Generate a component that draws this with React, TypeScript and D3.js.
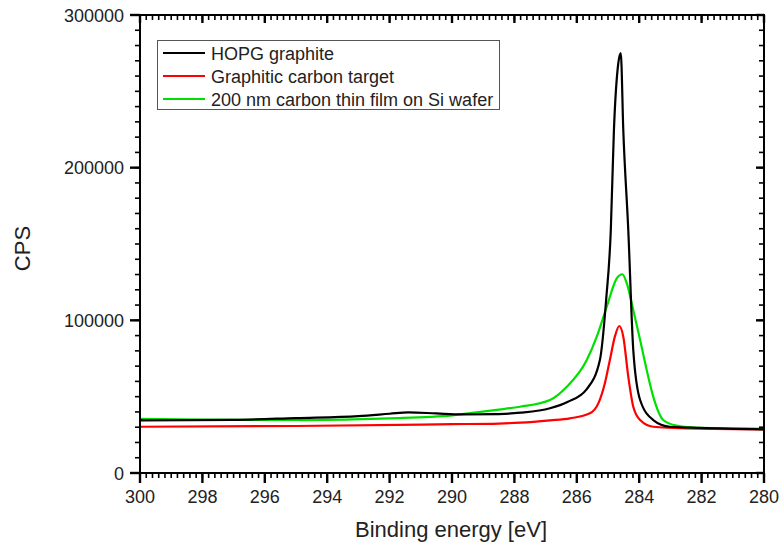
import React from "react";
import * as d3 from "d3";

const hopgE = [300, 297, 295, 293, 292, 291.4, 290.5, 289.7, 288.5, 287.8, 286.86, 286.3, 285.68, 285.26, 285.06, 284.91, 284.81, 284.67, 284.59, 284.51, 284.35, 284.19, 283.97, 283.55, 283.01, 282.05, 280];
const hopgV = [34500, 34800, 36000, 37300, 38800, 39700, 39000, 38400, 38600, 39500, 42400, 46500, 55000, 74000, 113300, 159200, 224700, 268400, 275000, 224700, 159200, 80600, 47800, 34700, 30300, 29500, 28600];

const targetE = [300, 295, 290, 288.5, 287.8, 286.86, 286.22, 285.58, 285.31, 285.1, 284.94, 284.78, 284.64, 284.51, 284.35, 284.19, 283.97, 283.55, 282.05, 280];
const targetV = [30300, 30800, 32000, 32400, 33000, 34500, 35800, 39100, 45600, 58800, 74000, 89300, 96300, 89300, 63100, 43400, 34700, 30300, 29000, 28600];

const filmE = [300, 298, 296, 294.87, 292, 290, 289.74, 288.5, 287.82, 286.86, 286.32, 285.68, 285.36, 285.04, 284.72, 284.54, 284.4, 284.19, 283.97, 283.76, 283.55, 283.23, 282.8, 282.05, 280];
const filmV = [35500, 35000, 34800, 34700, 35800, 37800, 38400, 41500, 43400, 47800, 56500, 74000, 89300, 108900, 127500, 130200, 124300, 106800, 87100, 67500, 50000, 34700, 31000, 29500, 29000];

const seriesNames = ["HOPG graphite", "Graphitic carbon target", "200 nm carbon thin film on Si wafer"];
const seriesColors = ["#000000", "#ff0000", "#00e000"];

const xTicks = [300, 298, 296, 294, 292, 290, 288, 286, 284, 282, 280];
const yTicks = [0, 100000, 200000, 300000];

export default function App() {
  const W = 780, H = 547;
  const left = 140, right = 764, top = 15, bottom = 473;
  const x = d3.scaleLinear().domain([300, 280]).range([left, right]);
  const y = d3.scaleLinear().domain([0, 300000]).range([bottom, top]);
  const lineGen = d3.line<[number, number]>().x(d => x(d[0])).y(d => y(d[1])).curve(d3.curveMonotoneX);
  const series = [
    hopgE.map((e, i) => [e, hopgV[i]] as [number, number]),
    targetE.map((e, i) => [e, targetV[i]] as [number, number]),
    filmE.map((e, i) => [e, filmV[i]] as [number, number]),
  ];
  const xMinor = d3.range(0, 101).map(i => 300 - i * 0.2);
  const yMinor = d3.range(0, 31).map(i => i * 10000);

  const font = "Liberation Sans, Arial, sans-serif";
  const tc = "#222";
  const tk = "#000";
  const drawOrder = [1, 2, 0];
  return (
    <svg width={W} height={H} style={{ position: "absolute", left: 0, top: 0 }}>
      <rect width={W} height={H} fill="#fff" />
      <g>
        {drawOrder.map(k => (
          <path key={k} d={lineGen(series[k]) || ""} fill="none" stroke={seriesColors[k]} strokeWidth={2.2} strokeLinejoin="round" />
        ))}
      </g>
      <rect x={left} y={top} width={right - left} height={bottom - top} fill="none" stroke="#000" strokeWidth={2} />
      {xTicks.map(v => (
        <text key={"xl" + v} x={x(v)} y={503} textAnchor="middle" fontSize={18} fontFamily={font} fill={tc}>{v}</text>
      ))}
      {yTicks.map(v => (
        <text key={"yl" + v} x={124} y={y(v) + 6.5} textAnchor="end" fontSize={18} fontFamily={font} fill={tc}>{v}</text>
      ))}
      <text x={451} y={537} textAnchor="middle" fontSize={22} fontFamily={font} fill={tc}>Binding energy [eV]</text>
      <text transform="translate(30,248.5) rotate(-90)" textAnchor="middle" fontSize={22} fontFamily={font} fill={tc}>CPS</text>
      <rect x={157.5} y={40.5} width={342} height={69} fill="#fff" stroke="#555" strokeWidth={1} />
      {seriesNames.map((n, i) => (
        <g key={n}>
          <line x1={163} x2={205} y1={53 + i * 23} y2={53 + i * 23} stroke={seriesColors[i]} strokeWidth={2} />
          <text x={211} y={53 + i * 23 + 6.5} fontSize={18} fontFamily={font} fill={tc}>{n}</text>
        </g>
      ))}
      {xMinor.map((v, i) => (
        <g key={"xm" + i}>
          <line x1={x(v)} x2={x(v)} y1={bottom} y2={bottom + 5} stroke={tk} strokeWidth={1.6} />
          <line x1={x(v)} x2={x(v)} y1={top} y2={top + 5} stroke={tk} strokeWidth={1.6} />
        </g>
      ))}
      {yMinor.map((v, i) => (
        <g key={"ym" + i}>
          <line x1={left - 5} x2={left} y1={y(v)} y2={y(v)} stroke={tk} strokeWidth={1.6} />
          <line x1={right - 5} x2={right} y1={y(v)} y2={y(v)} stroke={tk} strokeWidth={1.6} />
        </g>
      ))}
      {xTicks.map(v => (
        <g key={"xt" + v}>
          <line x1={x(v)} x2={x(v)} y1={bottom} y2={bottom + 10} stroke={tk} strokeWidth={2.4} />
          <line x1={x(v)} x2={x(v)} y1={top} y2={top + 8} stroke={tk} strokeWidth={2.4} />
        </g>
      ))}
      {yTicks.map(v => (
        <g key={"yt" + v}>
          <line x1={left - 10} x2={left} y1={y(v)} y2={y(v)} stroke={tk} strokeWidth={2.4} />
          <line x1={right - 8} x2={right} y1={y(v)} y2={y(v)} stroke={tk} strokeWidth={2.4} />
        </g>
      ))}
    </svg>
  );
}
